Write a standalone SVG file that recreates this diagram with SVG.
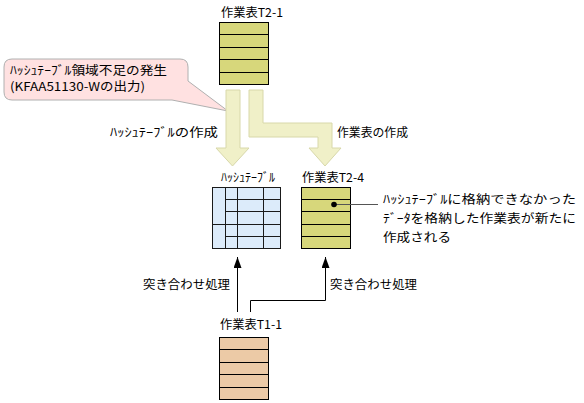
<svg xmlns="http://www.w3.org/2000/svg" width="584" height="403" viewBox="0 0 584 403">
<defs>
<style>
text{font-family:"Noto Sans CJK JP","DejaVu Sans",sans-serif;font-size:12px;fill:#000}
.tbl{fill:#d7d77b;stroke:#000;stroke-width:1}
.peach{fill:#eccaa6;stroke:#000;stroke-width:1}
.row{stroke:#000;stroke-width:1}
.hash{fill:#dcebfa;stroke:#1a1a1a;stroke-width:1}
.hl{stroke:#1a1a1a;stroke-width:1}
.big{fill:#f0f0c8;stroke:#d8d8aa;stroke-width:1}
.conn{fill:none;stroke:#000;stroke-width:1}
</style>
<marker id="ah" markerUnits="userSpaceOnUse" markerWidth="11" markerHeight="8" viewBox="0 0 11 8" refX="11" refY="4" orient="auto">
<path d="M0,0 L11,4 L0,8 Z" fill="#000"/>
</marker>
</defs>
<rect width="584" height="403" fill="#fff"/>

<g id="callout">
<path d="M12,59 H180 Q188,59 188,67 V81 L228,111 L172,100 H12 Q4,100 4,92 V67 Q4,59 12,59 Z" fill="#ffe1e1" stroke="#b0b0b0"/>
<text x="10" y="75" textLength="157" lengthAdjust="spacingAndGlyphs">ﾊｯｼｭﾃｰﾌﾞﾙ領域不足の発生</text>
<text x="10" y="91" textLength="135" lengthAdjust="spacingAndGlyphs">(KFAA51130-Wの出力)</text>
</g>

<g id="T2-1">
<text x="221" y="17" textLength="62" lengthAdjust="spacingAndGlyphs">作業表T2-1</text>
<rect class="tbl" x="219.5" y="22.5" width="49" height="62"/>
<path class="row" d="M219.5,34.5H268.5M219.5,47.5H268.5M219.5,59.5H268.5M219.5,72.5H268.5"/>
</g>

<g id="arrow-hash">
<path class="big" d="M226,90 H240 V148 H249 L232.5,166 L216,148 H226 Z"/>
<text x="110" y="137" textLength="108" lengthAdjust="spacingAndGlyphs">ﾊｯｼｭﾃｰﾌﾞﾙの作成</text>
</g>

<g id="arrow-work">
<path class="big" d="M249,90 H263 V123 H332 V148 H341 L325,166 L309,148 H318 V137 H249 Z"/>
<text x="337" y="136.5" textLength="71" lengthAdjust="spacingAndGlyphs">作業表の作成</text>
</g>

<g id="hashtable">
<text x="221" y="181.5" textLength="54" lengthAdjust="spacingAndGlyphs">ﾊｯｼｭﾃｰﾌﾞﾙ</text>
<rect class="hash" x="212.5" y="187.5" width="68" height="61"/>
<path class="hl" d="M225.5,187.5V248.5M237.5,187.5V248.5M263.5,187.5V248.5M225.5,199.5H280.5M225.5,211.5H280.5M212.5,224.5H280.5M225.5,236.5H280.5"/>
</g>

<g id="T2-4">
<text x="302" y="181.5" textLength="62" lengthAdjust="spacingAndGlyphs">作業表T2-4</text>
<rect class="tbl" x="301.5" y="187.5" width="49" height="61"/>
<path class="row" d="M301.5,199.5H350.5M301.5,211.5H350.5M301.5,224.5H350.5M301.5,236.5H350.5"/>
</g>

<g id="note">
<line x1="334" y1="204.5" x2="378" y2="204.5" stroke="#555" stroke-width="1"/>
<circle cx="334" cy="204.5" r="2.8" fill="#000"/>
<text x="383" y="203.5" textLength="193" lengthAdjust="spacingAndGlyphs">ﾊｯｼｭﾃｰﾌﾞﾙに格納できなかった</text>
<text x="383" y="222.5" textLength="193" lengthAdjust="spacingAndGlyphs">ﾃﾞｰﾀを格納した作業表が新たに</text>
<text x="383" y="241.5" textLength="68" lengthAdjust="spacingAndGlyphs">作成される</text>
</g>

<g id="T1-1">
<text x="220" y="328.5" textLength="62" lengthAdjust="spacingAndGlyphs">作業表T1-1</text>
<rect class="peach" x="219.5" y="337.5" width="49" height="62"/>
<path class="row" d="M219.5,349.5H268.5M219.5,362.5H268.5M219.5,374.5H268.5M219.5,387.5H268.5"/>
</g>

<g id="connectors">
<path class="conn" d="M237.5,312 V257" marker-end="url(#ah)"/>
<path class="conn" d="M250.5,312 V300.5 H325.5 V257" marker-end="url(#ah)"/>
<text x="143" y="289" textLength="87" lengthAdjust="spacingAndGlyphs">突き合わせ処理</text>
<text x="330" y="289" textLength="87" lengthAdjust="spacingAndGlyphs">突き合わせ処理</text>
</g>
</svg>
